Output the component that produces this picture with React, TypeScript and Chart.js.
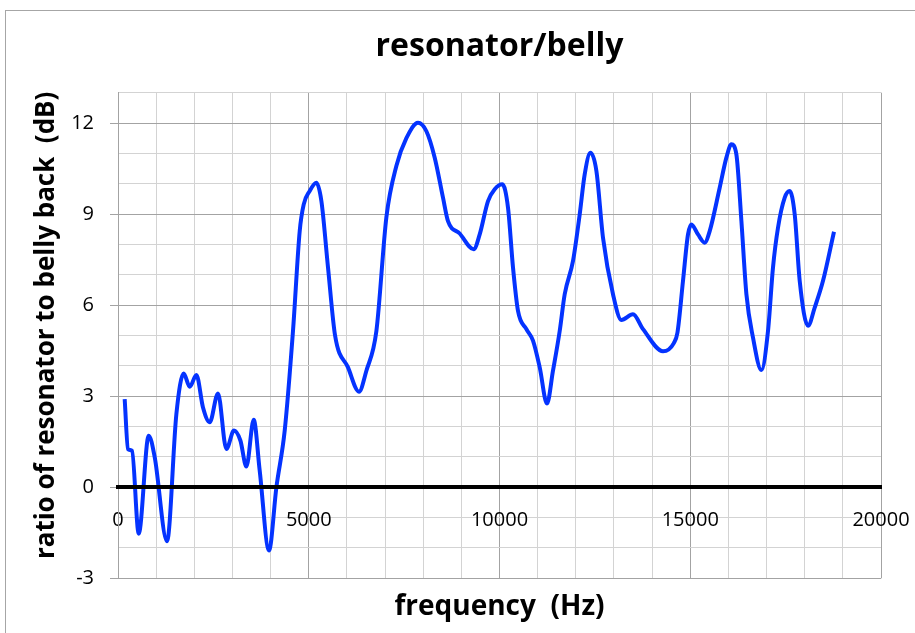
import React, { useEffect, useRef } from 'react';
import { Chart, registerables } from 'chart.js';

Chart.register(...registerables);

const freqHz = [
  175, 262, 367, 543, 805, 962, 1285, 1530, 1722, 1880,
  2055, 2228, 2404, 2621, 2841, 3041, 3208, 3366, 3557, 3714,
  3958, 4152, 4370, 4587, 4763, 4868, 5025, 5200, 5331, 5505,
  5690, 6029, 6317, 6511, 6773, 7035, 7300, 7559, 7864, 8084,
  8302, 8519, 8650, 8957, 9324, 9481, 9699, 9874, 10076, 10223,
  10354, 10485, 10705, 10878, 11054, 11245, 11402, 11578, 11709, 11927,
  12102, 12233, 12383, 12540, 12713, 12975, 13195, 13499, 13762, 14286,
  14570, 14665, 14810, 14941, 15030, 15203, 15378, 15510, 15772, 15947,
  16078, 16209, 16341, 16472, 16645, 16865, 17038, 17169, 17300, 17476,
  17607, 17738, 17869, 18086, 18262, 18480, 18768,
];

const ratioDb = [
  2.9, 1.26, 1.2, -1.53, 1.7, 0.99, -1.78, 2.41, 3.75, 3.31,
  3.7, 2.63, 2.14, 3.09, 1.26, 1.87, 1.54, 0.68, 2.22, 0.55,
  -2.08, 0.0, 1.87, 5.15, 8.44, 9.32, 9.76, 10.03, 9.43, 7.24,
  5.0, 3.95, 3.15, 3.84, 5.15, 8.9, 10.6, 11.5, 12.01, 11.73,
  10.86, 9.54, 8.77, 8.36, 7.84, 8.33, 9.43, 9.82, 9.98, 9.21,
  7.24, 5.81, 5.21, 4.83, 3.95, 2.76, 3.84, 5.15, 6.36, 7.46,
  8.99, 10.31, 11.02, 10.42, 8.22, 6.36, 5.51, 5.7, 5.21, 4.48,
  4.75, 5.1, 6.8, 8.33, 8.66, 8.33, 8.06, 8.44, 9.87, 10.86,
  11.3, 10.97, 8.77, 6.36, 4.93, 3.86, 5.15, 7.24, 8.55, 9.54,
  9.76, 8.99, 6.8, 5.32, 5.92, 6.8, 8.42,
];

const xTickLabels = [0, 5000, 10000, 15000, 20000];
const yTickLabels = [-3, 0, 3, 6, 9, 12];

const chartTitle = 'resonator/belly';
const xAxisTitle = 'frequency  (Hz)';
const yAxisTitle = '   ratio of resonator to belly back  (dB)';

const FONT = "'Open Sans', 'DejaVu Sans', sans-serif";
const MAJOR = '#a3a3a3';
const MINOR = '#d3d3d3';
const LINE = '#0433ff';

export default function App() {
  const canvasRef = useRef<HTMLCanvasElement | null>(null);

  useEffect(() => {
    const canvas = canvasRef.current;
    if (!canvas) return;
    const points = freqHz.map((f, i) => ({ x: f, y: ratioDb[i] }));
    const chart = new Chart(canvas, {
      type: 'line',
      data: {
        datasets: [
          {
            data: points,
            borderColor: LINE,
            borderWidth: 4,
            pointRadius: 0,
            fill: false,
            cubicInterpolationMode: 'monotone',
            xAxisID: 'x',
            yAxisID: 'y',
          },
        ],
      },
      options: {
        responsive: false,
        animation: false,
        devicePixelRatio: 1,
        layout: { padding: { left: 0, right: 34, top: 0, bottom: 0 } },
        plugins: {
          legend: { display: false },
          tooltip: { enabled: false },
          title: {
            display: true,
            fullSize: false,
            text: chartTitle,
            color: '#000',
            font: { family: FONT, size: 32, weight: 'bold' },
            padding: { top: 27.4, bottom: 26.9 },
          },
        },
        scales: {
          x: {
            type: 'linear',
            position: { y: 0 },
            min: 0,
            max: 20000,
            ticks: {
              stepSize: 1000,
              autoSkip: false,
              maxRotation: 0,
              padding: 21,
              color: '#000',
              font: { family: FONT, size: 20 },
              callback: (v: any) => (xTickLabels.includes(Number(v)) ? String(v) : ''),
            },
            grid: {
              color: (ctx: any) =>
                ctx.tick && ctx.tick.value % 5000 === 0 ? MAJOR : MINOR,
              lineWidth: 1,
              drawTicks: false,
            },
            border: { display: true, color: '#000', width: 4, z: 1 },
            afterFit: (s: any) => {
              s.paddingLeft = 0;
              s.paddingRight = 0;
            },
          },
          xt: {
            type: 'linear',
            position: 'bottom',
            min: 0,
            max: 20000,
            ticks: { display: false },
            grid: { display: false, drawTicks: false },
            border: { display: false },
            title: {
              display: true,
              text: xAxisTitle,
              color: '#000',
              font: { family: FONT, size: 28, weight: 'bold' },
              padding: { top: 0, bottom: 9 },
            },
            afterFit: (s: any) => {
              s.height = 54.7;
              s.paddingLeft = 0;
              s.paddingRight = 0;
            },
          },
          y: {
            type: 'linear',
            position: 'left',
            min: -3,
            max: 13,
            ticks: {
              stepSize: 1,
              autoSkip: false,
              padding: 16,
              color: '#000',
              font: { family: FONT, size: 20 },
              callback: (v: any) => (yTickLabels.includes(Number(v)) ? String(v) : ''),
            },
            grid: {
              color: (ctx: any) =>
                ctx.tick && Math.abs(ctx.tick.value % 3) === 0 ? MAJOR : MINOR,
              tickColor: (ctx: any) =>
                ctx.tick && Math.abs(ctx.tick.value % 3) === 0 && ctx.tick.value <= 12
                  ? MAJOR
                  : 'rgba(0,0,0,0)',
              tickLength: 8,
              lineWidth: 1,
            },
            border: { display: true, color: MAJOR, width: 1 },
            title: {
              display: true,
              text: yAxisTitle,
              color: '#000',
              font: { family: FONT, size: 26, weight: 'bold' },
              padding: { top: 31, bottom: 0 },
            },
            afterFit: (s: any) => {
              s.width = 118;
              s.paddingTop = 0;
              s.paddingBottom = 0;
            },
          },
        },
      },
    } as any);
    return () => chart.destroy();
  }, []);

  return (
    <div
      style={{
        position: 'fixed',
        left: 0,
        top: 0,
        width: 915,
        height: 633,
        background: '#fff',
        overflow: 'hidden',
      }}
    >
      <div
        style={{
          position: 'absolute',
          left: 5,
          top: 10,
          width: 930,
          height: 650,
          border: '1px solid #a6a6a6',
        }}
      />
      <canvas
        ref={canvasRef}
        width={915}
        height={633}
        style={{ position: 'absolute', left: 0, top: 0, display: 'block' }}
      />
    </div>
  );
}
